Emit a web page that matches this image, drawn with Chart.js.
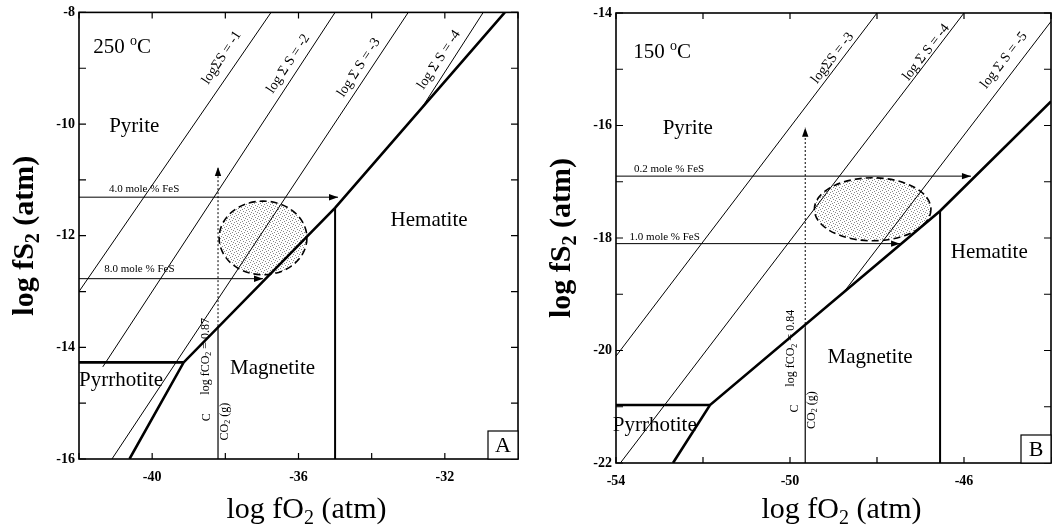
<!DOCTYPE html>
<html>
<head>
<meta charset="utf-8">
<script src="https://cdn.jsdelivr.net/npm/chart.js@4.4.1/dist/chart.umd.min.js"></script>
<style>
  body { margin: 0; background: #fff; }
  canvas { position: absolute; top: 0; }
</style>
</head>
<body>
<canvas id="chartA" width="530" height="532" style="left:0"></canvas>
<canvas id="chartB" width="533" height="532" style="left:530px"></canvas>
<script>
// ---- panel A : 250 C ----
const xRangeA = [-42, -30];
const yRangeA = [-16, -8];
const xTickLabelsA = [-40, -36, -32];
const yTickLabelsA = [-8, -10, -12, -14, -16];

const isoS1A = [[-42, -13], [-36.75, -8]];
const isoS2A = [[-41.35, -14.35], [-35, -8]];
const isoS3A = [[-41.1, -16], [-33, -8]];
const isoS4A = [[-32.6, -9.68], [-30.95, -8]];
const boundaryA = [[-40.62, -16], [-39.14, -14.27], [-35, -11.5], [-30.36, -8]];
const pyrrhotiteTopA = [[-42, -14.27], [-39.14, -14.27]];
const hemMagA = [[-35, -11.5], [-35, -16]];
const carbonA = [[-38.2, -16], [-38.2, -13.62]];
const carbonArrowA = [[-38.2, -13.62], [-38.2, -10.77]];
const fes4A = [[-42, -11.31], [-34.92, -11.31]];
const fes8A = [[-42, -12.77], [-36.97, -12.77]];
const fieldA = { cx: -36.97, cy: -12.04, rx: 1.2, ry: 0.66 };

// ---- panel B : 150 C ----
const xRangeB = [-54, -44];
const yRangeB = [-22, -14];
const xTickLabelsB = [-54, -50, -46];
const yTickLabelsB = [-14, -16, -18, -20, -22];

const isoS3B = [[-54, -20.1], [-48, -14]];
const isoS4B = [[-53.9, -22], [-46, -14]];
const isoS5B = [[-48.8, -19], [-44, -14.15]];
const boundaryB = [[-52.69, -22], [-51.84, -20.97], [-46.55, -17.52], [-44, -15.57]];
const pyrrhotiteTopB = [[-54, -20.97], [-51.84, -20.97]];
const hemMagB = [[-46.55, -17.52], [-46.55, -22]];
const carbonB = [[-49.65, -22], [-49.65, -19.6]];
const carbonArrowB = [[-49.65, -19.6], [-49.65, -16.04]];
const fes02B = [[-54, -16.9], [-45.84, -16.9]];
const fes10B = [[-54, -18.1], [-47.47, -18.1]];
const fieldB = { cx: -48.1, cy: -17.49, rx: 1.34, ry: 0.56 };

const FONT = '"Liberation Serif", "Times New Roman", serif';

function pts(arr) { return arr.map(p => ({ x: p[0], y: p[1] })); }

function line(data, width, extra) {
  return Object.assign({
    data: pts(data), showLine: true, borderColor: '#000', borderWidth: width,
    pointRadius: 0, fill: false, tension: 0
  }, extra || {});
}

// text with _x subscript and ^x superscript
function richText(ctx, str, x, y, size, opt) {
  opt = opt || {};
  const parts = [];
  let i = 0;
  while (i < str.length) {
    const c = str[i];
    if ((c === '_' || c === '^') && i + 1 < str.length) { parts.push({ t: str[i + 1], m: c }); i += 2; }
    else {
      let j = i;
      while (j < str.length && str[j] !== '_' && str[j] !== '^') j++;
      parts.push({ t: str.slice(i, j), m: '' }); i = j;
    }
  }
  const w = opt.bold ? 'bold ' : '';
  const small = Math.round(size * 0.68);
  let total = 0;
  parts.forEach(p => {
    ctx.font = w + (p.m ? small : size) + 'px ' + FONT;
    p.w = ctx.measureText(p.t).width; total += p.w;
  });
  ctx.save();
  ctx.translate(x, y);
  if (opt.rot) ctx.rotate(opt.rot);
  ctx.textBaseline = 'middle'; ctx.textAlign = 'left'; ctx.fillStyle = '#000';
  let cx = -total / 2;
  parts.forEach(p => {
    ctx.font = w + (p.m ? small : size) + 'px ' + FONT;
    const dy = p.m === '_' ? size * 0.28 : p.m === '^' ? -size * 0.3 : 0;
    ctx.fillText(p.t, cx, dy);
    cx += p.w;
  });
  ctx.restore();
}

function stipple(ctx) {
  const c = document.createElement('canvas');
  c.width = 6; c.height = 6;
  const g = c.getContext('2d');
  g.fillStyle = '#fff'; g.fillRect(0, 0, 6, 6);
  g.fillStyle = '#8a8a8a';
  [[0, 0], [3, 1], [1, 3], [4, 4], [5, 2], [2, 5]].forEach(p => g.fillRect(p[0], p[1], 1, 1));
  return ctx.createPattern(c, 'repeat');
}

const diagramPlugin = {
  id: 'diagram',
  beforeDatasetsDraw(chart) {
    const o = chart.options.plugins.diagram;
    const { ctx, scales: { x, y } } = chart;
    const e = o.field;
    const px = x.getPixelForValue(e.cx), py = y.getPixelForValue(e.cy);
    const rx = x.getPixelForValue(e.cx + e.rx) - px;
    const ry = py - y.getPixelForValue(e.cy + e.ry);
    ctx.save();
    ctx.beginPath();
    ctx.ellipse(px, py, rx, ry, 0, 0, Math.PI * 2);
    ctx.fillStyle = stipple(ctx);
    ctx.fill();
    ctx.setLineDash([7, 4]);
    ctx.lineWidth = 1.6;
    ctx.strokeStyle = '#000';
    ctx.stroke();
    ctx.restore();
  },
  afterDatasetsDraw(chart) {
    const o = chart.options.plugins.diagram;
    const { ctx, chartArea: a, scales: { x, y } } = chart;
    ctx.save();
    // arrow heads
    chart.data.datasets.forEach((ds, i) => {
      if (!ds.arrowEnd) return;
      const el = chart.getDatasetMeta(i).data;
      const p1 = el[el.length - 2], p2 = el[el.length - 1];
      const ang = Math.atan2(p2.y - p1.y, p2.x - p1.x);
      ctx.save();
      ctx.translate(p2.x, p2.y);
      ctx.rotate(ang);
      ctx.beginPath();
      ctx.moveTo(0, 0); ctx.lineTo(-9, -3.2); ctx.lineTo(-9, 3.2); ctx.closePath();
      ctx.fillStyle = '#000'; ctx.fill();
      ctx.restore();
    });
    // frame and inward ticks
    ctx.strokeStyle = '#000';
    ctx.lineWidth = 1.6;
    ctx.strokeRect(a.left, a.top, a.right - a.left, a.bottom - a.top);
    ctx.lineWidth = 1.2;
    ctx.beginPath();
    x.ticks.forEach(t => {
      const p = x.getPixelForValue(t.value);
      ctx.moveTo(p, a.bottom); ctx.lineTo(p, a.bottom - 6);
      ctx.moveTo(p, a.top); ctx.lineTo(p, a.top + 6);
    });
    y.ticks.forEach(t => {
      const p = y.getPixelForValue(t.value);
      ctx.moveTo(a.left, p); ctx.lineTo(a.left + 7, p);
      ctx.moveTo(a.right, p); ctx.lineTo(a.right - 7, p);
    });
    ctx.stroke();
    // sulfur isopleth labels, rotated along slope 1
    const ang = Math.atan2(y.getPixelForValue(1) - y.getPixelForValue(0), x.getPixelForValue(1) - x.getPixelForValue(0));
    o.isoLabels.forEach(l => richText(ctx, l.t, x.getPixelForValue(l.x), y.getPixelForValue(l.y), 14, { rot: ang }));
    // other labels
    o.labels.forEach(l => richText(ctx, l.t, x.getPixelForValue(l.x), y.getPixelForValue(l.y), l.size, { rot: l.rot }));
    // panel letter box
    ctx.lineWidth = 1.2;
    ctx.fillStyle = '#fff';
    ctx.fillRect(a.right - 30, a.bottom - 28, 30, 28);
    ctx.strokeRect(a.right - 30, a.bottom - 28, 30, 28);
    richText(ctx, o.letter, a.right - 15, a.bottom - 13, 22);
    // axis titles
    richText(ctx, 'log fO_2 (atm)', (a.left + a.right) / 2 + 8, chart.height - 22, 30);
    richText(ctx, 'log fS_2 (atm)', a.left - 54, (a.top + a.bottom) / 2, 30, { bold: true, rot: -Math.PI / 2 });
    ctx.restore();
  }
};

function makePanel(id, cfg) {
  return new Chart(document.getElementById(id), {
    type: 'scatter',
    data: { datasets: cfg.datasets },
    options: {
      responsive: false,
      animation: false,
      layout: { padding: { top: cfg.top, right: 12, left: 0, bottom: 0 } },
      plugins: {
        legend: { display: false },
        tooltip: { enabled: false },
        diagram: cfg.diagram
      },
      scales: {
        x: {
          type: 'linear', min: cfg.xRange[0], max: cfg.xRange[1],
          grid: { display: false, drawTicks: false }, border: { display: false },
          afterFit: s => { s.height = cfg.xAxisHeight; },
          ticks: {
            stepSize: 2, autoSkip: false, maxRotation: 0, padding: 10, color: '#000',
            font: { family: FONT, size: 14, weight: 'bold' },
            callback: v => cfg.xLabels.includes(v) ? String(v) : ''
          }
        },
        y: {
          type: 'linear', min: cfg.yRange[0], max: cfg.yRange[1],
          grid: { display: false, drawTicks: false }, border: { display: false },
          afterFit: s => { s.width = cfg.yAxisWidth; },
          ticks: {
            stepSize: 1, autoSkip: false, padding: 4, color: '#000',
            font: { family: FONT, size: 14, weight: 'bold' },
            callback: v => cfg.yLabels.includes(v) ? String(v) : ''
          }
        }
      }
    },
    plugins: [diagramPlugin]
  });
}

makePanel('chartA', {
  xRange: xRangeA, yRange: yRangeA, xLabels: xTickLabelsA, yLabels: yTickLabelsA,
  top: 12, xAxisHeight: 73, yAxisWidth: 79,
  datasets: [
    line(isoS1A, 1), line(isoS2A, 1), line(isoS3A, 1), line(isoS4A, 1),
    line(boundaryA, 2.6), line(pyrrhotiteTopA, 2.6), line(hemMagA, 2),
    line(carbonA, 1.2), line(carbonArrowA, 1, { borderDash: [2, 2], arrowEnd: true }),
    line(fes4A, 1, { arrowEnd: true }), line(fes8A, 1, { arrowEnd: true })
  ],
  diagram: {
    field: fieldA, letter: 'A',
    isoLabels: [
      { t: 'log\u03A3S = -1', x: -38.1, y: -8.81 },
      { t: 'log \u03A3 S = -2', x: -36.28, y: -8.92 },
      { t: 'log \u03A3 S = -3', x: -34.35, y: -8.99 },
      { t: 'log \u03A3 S = -4', x: -32.16, y: -8.85 }
    ],
    labels: [
      { t: '250 ^oC', x: -40.82, y: -8.63, size: 21 },
      { t: 'Pyrite', x: -40.49, y: -10.04, size: 21 },
      { t: 'Hematite', x: -32.43, y: -11.73, size: 21 },
      { t: 'Magnetite', x: -36.71, y: -14.38, size: 21 },
      { t: 'Pyrrhotite', x: -40.85, y: -14.59, size: 21 },
      { t: '4.0 mole % FeS', x: -40.22, y: -11.16, size: 11 },
      { t: '8.0 mole % FeS', x: -40.35, y: -12.59, size: 11 },
      { t: 'log fCO_2 = 0.87', x: -38.54, y: -14.16, size: 12, rot: -Math.PI / 2 },
      { t: 'C', x: -38.5, y: -15.25, size: 12, rot: -Math.PI / 2 },
      { t: 'CO_2 (g)', x: -38.02, y: -15.33, size: 12, rot: -Math.PI / 2 }
    ]
  }
});

makePanel('chartB', {
  xRange: xRangeB, yRange: yRangeB, xLabels: xTickLabelsB, yLabels: yTickLabelsB,
  top: 13, xAxisHeight: 69, yAxisWidth: 86,
  datasets: [
    line(isoS3B, 1), line(isoS4B, 1), line(isoS5B, 1),
    line(boundaryB, 2.6), line(pyrrhotiteTopB, 2.6), line(hemMagB, 2),
    line(carbonB, 1.2), line(carbonArrowB, 1, { borderDash: [2, 2], arrowEnd: true }),
    line(fes02B, 1, { arrowEnd: true }), line(fes10B, 1, { arrowEnd: true })
  ],
  diagram: {
    field: fieldB, letter: 'B',
    isoLabels: [
      { t: 'log\u03A3S = -3', x: -49.02, y: -14.8 },
      { t: 'log \u03A3 S = -4', x: -46.87, y: -14.7 },
      { t: 'log \u03A3 S = -5', x: -45.08, y: -14.84 }
    ],
    labels: [
      { t: '150 ^oC', x: -52.94, y: -14.7, size: 21 },
      { t: 'Pyrite', x: -52.35, y: -16.05, size: 21 },
      { t: 'Hematite', x: -45.42, y: -18.25, size: 21 },
      { t: 'Magnetite', x: -48.16, y: -20.12, size: 21 },
      { t: 'Pyrrhotite', x: -53.11, y: -21.33, size: 21 },
      { t: '0.2 mole % FeS', x: -52.78, y: -16.77, size: 11 },
      { t: '1.0 mole % FeS', x: -52.88, y: -17.98, size: 11 },
      { t: 'log fCO_2 = 0.84', x: -49.97, y: -19.96, size: 12, rot: -Math.PI / 2 },
      { t: 'C', x: -49.89, y: -21.03, size: 12, rot: -Math.PI / 2 },
      { t: 'CO_2 (g)', x: -49.5, y: -21.06, size: 12, rot: -Math.PI / 2 }
    ]
  }
});
</script>
</body>
</html>
